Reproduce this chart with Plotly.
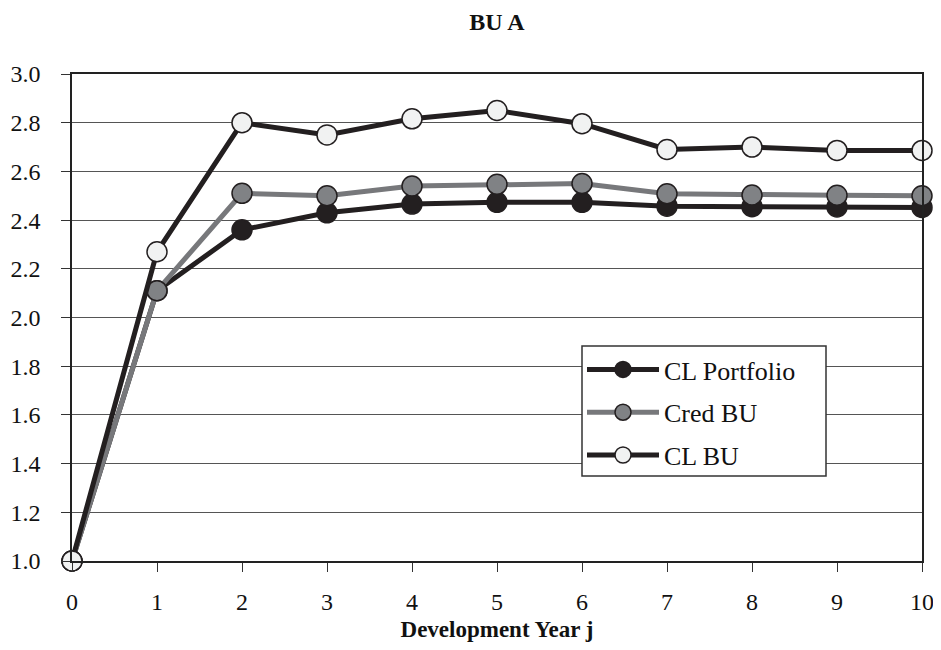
import plotly.graph_objects as go

dev_years = [0, 1, 2, 3, 4, 5, 6, 7, 8, 9, 10]
cl_portfolio = [1.00, 2.11, 2.36, 2.43, 2.466, 2.473, 2.473, 2.457, 2.455, 2.454, 2.452]
cred_bu = [1.00, 2.11, 2.51, 2.50, 2.54, 2.547, 2.55, 2.508, 2.503, 2.502, 2.50]
cl_bu = [1.00, 2.27, 2.80, 2.75, 2.816, 2.85, 2.796, 2.69, 2.70, 2.686, 2.686]
y_ticks = [1.0, 1.2, 1.4, 1.6, 1.8, 2.0, 2.2, 2.4, 2.6, 2.8, 3.0]

FONT = "Liberation Serif, Times New Roman, serif"
DARK = "#231f20"

series = [
    ("CL Portfolio", cl_portfolio, DARK, DARK),
    ("Cred BU", cred_bu, "#77787b", "#808285"),
    ("CL BU", cl_bu, DARK, "#f1f2f2"),
]

fig = go.Figure()
for i, (name, vals, lc, fc) in enumerate(series):
    fig.add_trace(go.Scatter(
        x=dev_years, y=vals, name=name, mode="lines+markers",
        legendgroup=f"g{i}",
        line=dict(color=lc, width=5),
        marker=dict(size=20, color=fc, line=dict(color=DARK, width=1.5)),
        cliponaxis=False,
    ))

# page body has an 8px margin, so the figure is offset by 8px
W, H = 925, 634
PX0, PX1, PY0, PY1 = 72, 922, 74, 561  # plot area in page pixels
lx0, lx1 = (582 - PX0) / (PX1 - PX0), (826 - PX0) / (PX1 - PX0)
ly0, ly1 = (PY1 - 476) / (PY1 - PY0), (PY1 - 346) / (PY1 - PY0)

fig.update_layout(
    template="plotly_white",
    width=W, height=H,
    margin=dict(l=64, r=11, t=66, b=81, autoexpand=False),
    paper_bgcolor="white", plot_bgcolor="white",
    font=dict(family=FONT, size=24, color="#111"),
    title=dict(text="<b>BU A</b>", x=(497 - 8) / W, xanchor="center", y=1 - 14 / H,
               yanchor="middle", yref="container", font=dict(size=24, family=FONT, color="#111")),
    showlegend=True,
    legend=dict(
        x=lx0, y=ly1, xanchor="left", yanchor="top",
        borderwidth=0, bgcolor="rgba(0,0,0,0)",
        font=dict(size=26, family=FONT, color="#111"),
        traceorder="grouped", tracegroupgap=6, itemwidth=72,
    ),
    shapes=[dict(type="rect", xref="paper", yref="paper",
                 x0=lx0, x1=lx1, y0=ly0, y1=ly1,
                 line=dict(color="#333", width=1.5), fillcolor="white", layer="above")],
)
fig.update_xaxes(
    range=[0, 10], tickmode="array", tickvals=dev_years,
    ticks="outside", ticklen=9, tickcolor="#333", tickwidth=1,
    showline=True, linecolor="#222", linewidth=1.5, mirror=True,
    showgrid=False, zeroline=False, ticklabelstandoff=9, automargin=False,
    ticklabeloverflow="allow",
    title=dict(text="<b>Development Year j</b>", standoff=13,
               font=dict(size=23, family=FONT, color="#111")),
)
fig.update_yaxes(
    range=[1, 3], tickmode="array", tickvals=y_ticks,
    ticktext=[f"{v:.1f}" for v in y_ticks],
    ticks="outside", ticklen=9, tickcolor="#333", tickwidth=1,
    showline=True, linecolor="#222", linewidth=1.5, mirror=True,
    showgrid=True, gridcolor="#555", gridwidth=1, zeroline=False,
    ticklabelstandoff=16, automargin=False, ticklabeloverflow="allow",
)

fig.write_html("out.html")
